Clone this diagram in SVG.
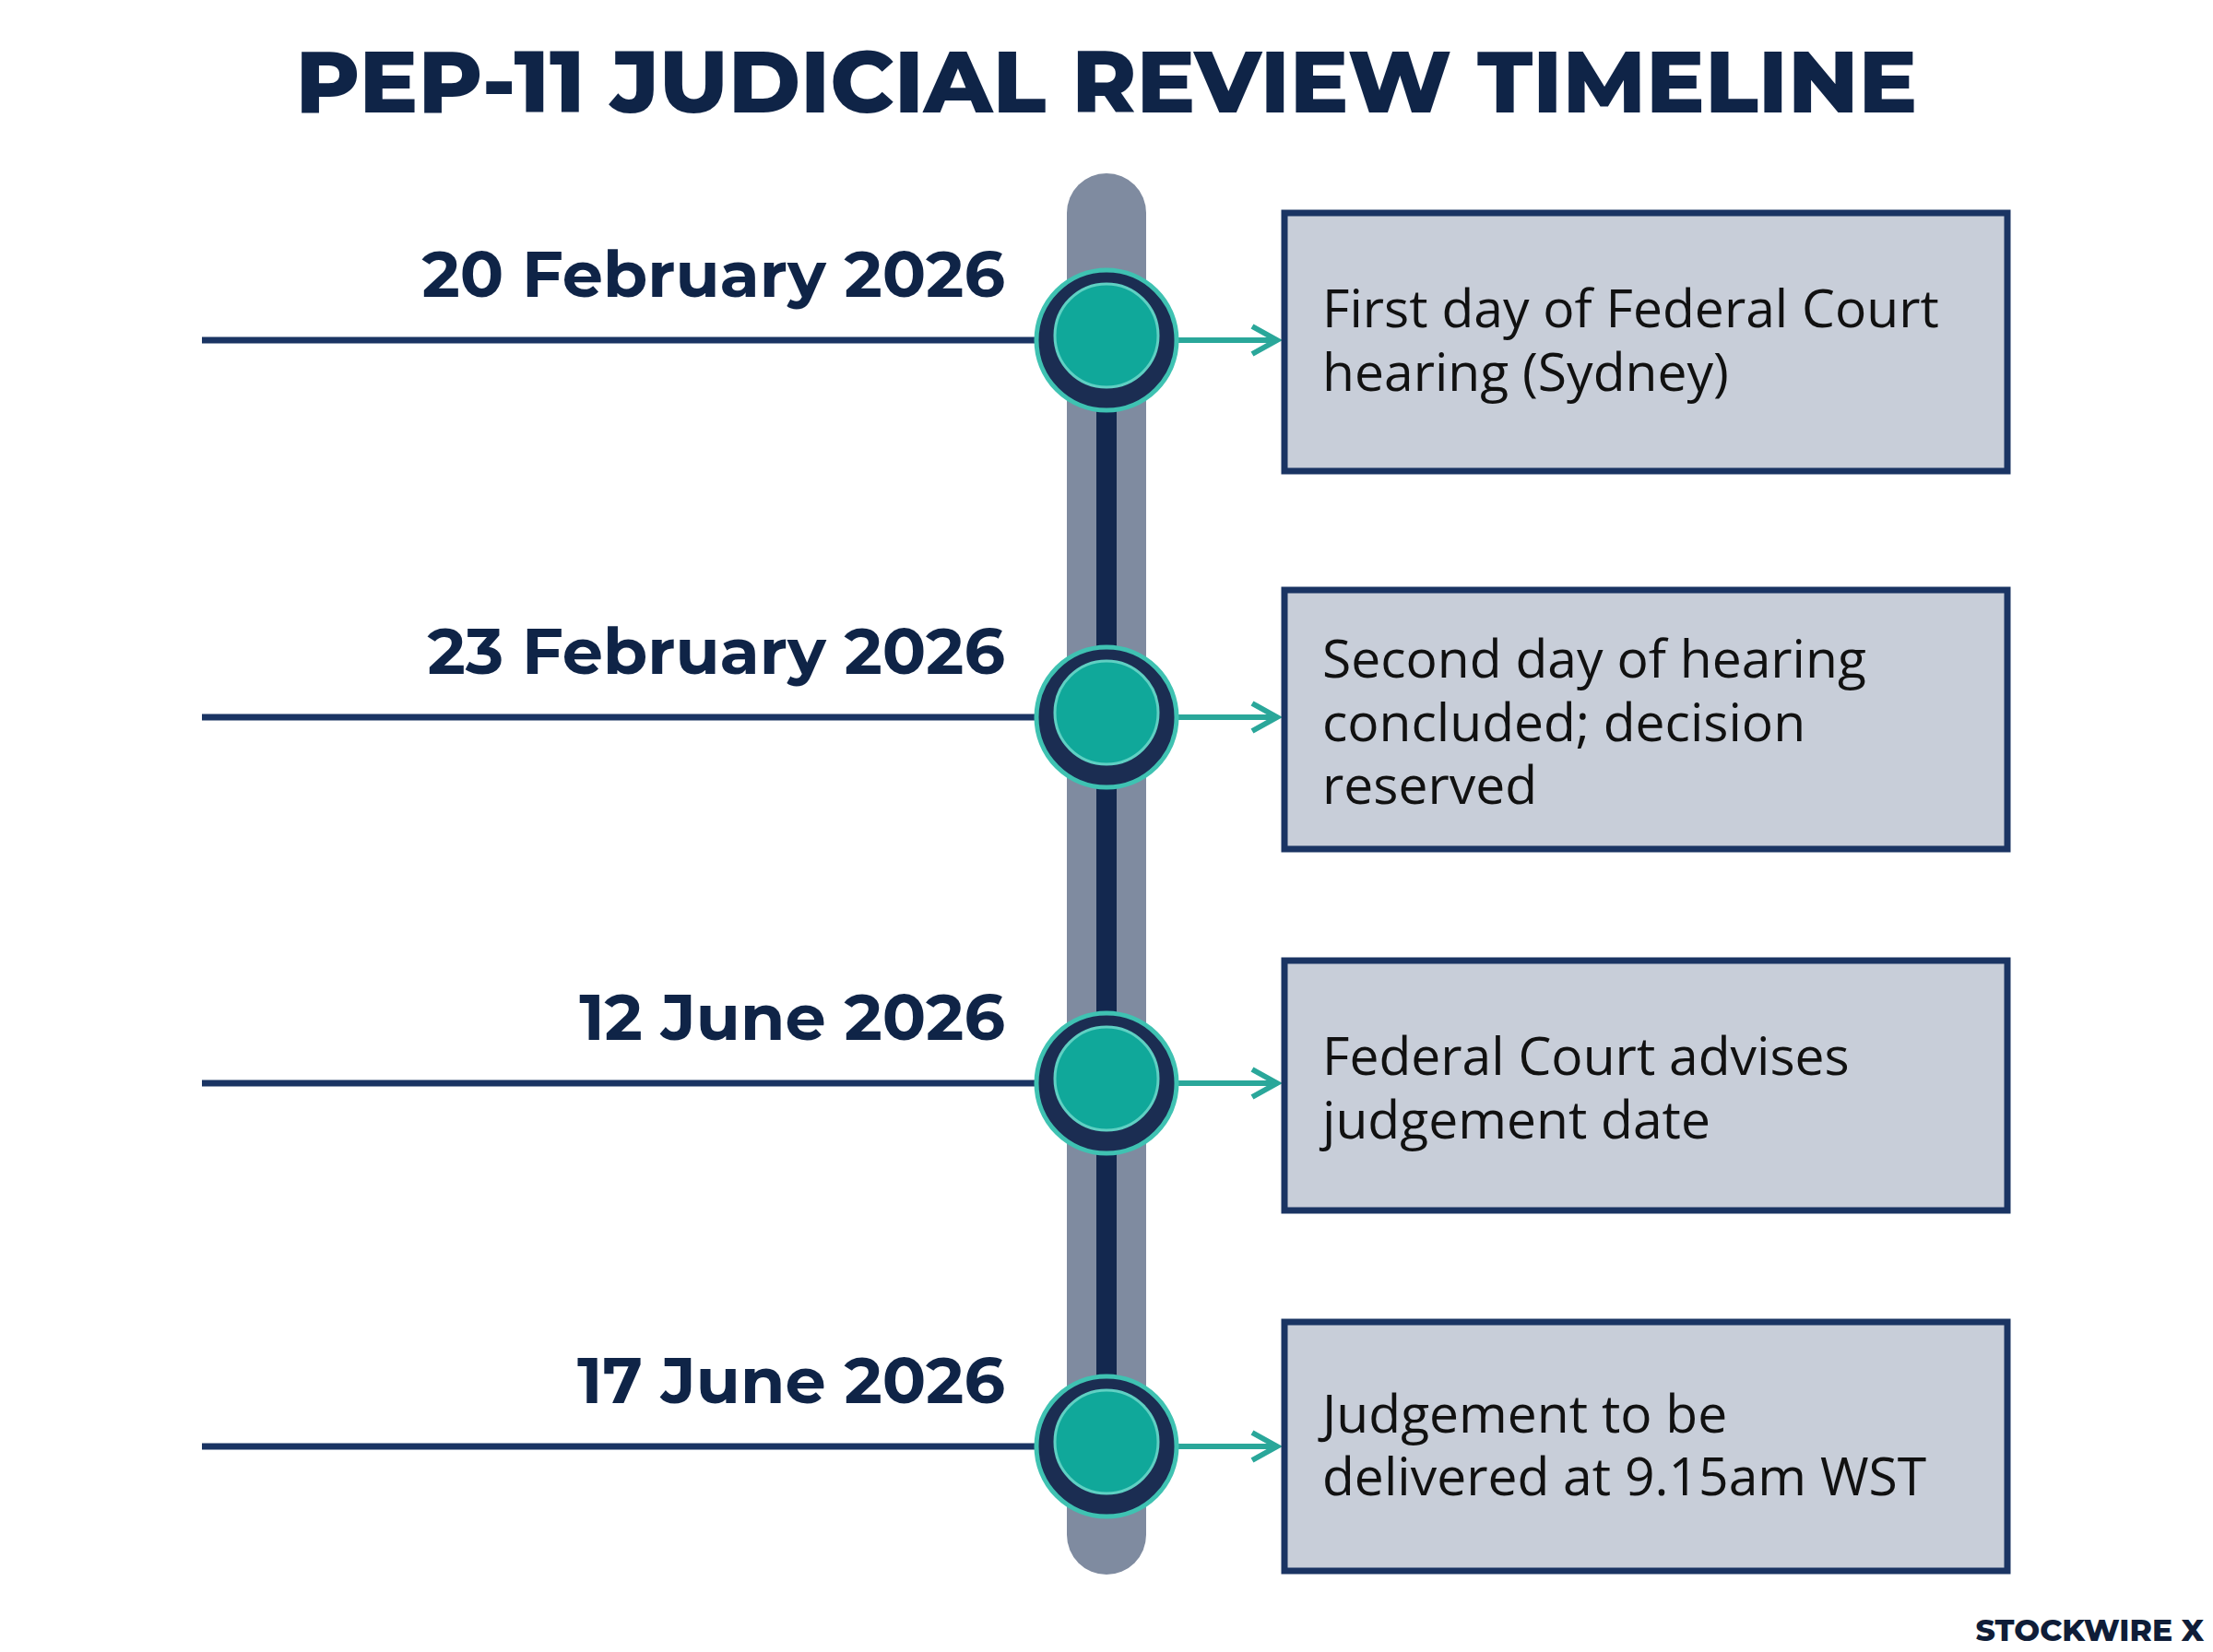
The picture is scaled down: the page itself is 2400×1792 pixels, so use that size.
<svg xmlns="http://www.w3.org/2000/svg" width="2400" height="1792" viewBox="0 0 2400 1792">
<style>
.title{font-family:Montserrat,"Poppins","Liberation Sans",sans-serif;font-weight:800;font-size:95px;fill:#0f2447}
.date{font-family:Montserrat,"Liberation Sans",sans-serif;font-weight:700;font-size:70px;fill:#0f2447}
.box{fill:#c8ced9;stroke:#1a3463;stroke-width:7}
.txt{font-family:"Open Sans","Liberation Sans",sans-serif;font-size:57px;fill:#111}
.lline{stroke:#1a3463;stroke-width:7}
.arr{stroke:#2aa79a;stroke-width:6;fill:none}
.outer{fill:#1b2d52;stroke:#3fc2b2;stroke-width:5}
.inner{fill:#10a89a;stroke:#5fd0c3;stroke-width:3}
</style>
<defs>
<marker id="ah" viewBox="0 0 12 12" refX="10" refY="6" markerWidth="6" markerHeight="6" orient="auto" markerUnits="strokeWidth"><path d="M1 1 L10 6 L1 11" fill="none" stroke="#2aa79a" stroke-width="2"/></marker>
</defs>
<rect width="2400" height="1792" fill="#fff"/>
<text class="title" x="1200" y="122" text-anchor="middle">PEP-11 JUDICIAL REVIEW TIMELINE</text>
<g id="track">
<rect x="1157" y="188" width="86" height="1520" rx="43" fill="#7f8ba0"/>
<rect x="1189" y="369" width="22" height="1200" fill="#13284f"/>
</g>
<g id="connectors">
<line class="lline" x1="219" y1="369" x2="1130" y2="369"/>
<line class="lline" x1="219" y1="778" x2="1130" y2="778"/>
<line class="lline" x1="219" y1="1175" x2="1130" y2="1175"/>
<line class="lline" x1="219" y1="1569" x2="1130" y2="1569"/>
<line class="arr" x1="1275" y1="369" x2="1385" y2="369" marker-end="url(#ah)"/>
<line class="arr" x1="1275" y1="778" x2="1385" y2="778" marker-end="url(#ah)"/>
<line class="arr" x1="1275" y1="1175" x2="1385" y2="1175" marker-end="url(#ah)"/>
<line class="arr" x1="1275" y1="1569" x2="1385" y2="1569" marker-end="url(#ah)"/>
</g>
<g id="n1"><circle class="outer" cx="1200" cy="369" r="76"/><circle class="inner" cx="1200" cy="364" r="56"/>
<text class="date" x="1090" y="322" text-anchor="end">20 February 2026</text>
<rect class="box" x="1393" y="231" width="784" height="280"/>
<text class="txt" x="1434" y="355">First day of Federal Court</text><text class="txt" x="1434" y="424">hearing (Sydney)</text></g>
<g id="n2"><circle class="outer" cx="1200" cy="778" r="76"/><circle class="inner" cx="1200" cy="773" r="56"/>
<text class="date" x="1090" y="731" text-anchor="end">23 February 2026</text>
<rect class="box" x="1393" y="640" width="784" height="281"/>
<text class="txt" x="1434" y="735">Second day of hearing</text><text class="txt" x="1434" y="804">concluded; decision</text><text class="txt" x="1434" y="872">reserved</text></g>
<g id="n3"><circle class="outer" cx="1200" cy="1175" r="76"/><circle class="inner" cx="1200" cy="1170" r="56"/>
<text class="date" x="1090" y="1128" text-anchor="end">12 June 2026</text>
<rect class="box" x="1393" y="1042" width="784" height="271"/>
<text class="txt" x="1434" y="1166">Federal Court advises</text><text class="txt" x="1434" y="1235">judgement date</text></g>
<g id="n4"><circle class="outer" cx="1200" cy="1569" r="76"/><circle class="inner" cx="1200" cy="1564" r="56"/>
<text class="date" x="1090" y="1522" text-anchor="end">17 June 2026</text>
<rect class="box" x="1393" y="1434" width="784" height="270"/>
<text class="txt" x="1434" y="1554">Judgement to be</text><text class="txt" x="1434" y="1622">delivered at 9.15am WST</text></g>
<text x="2390" y="1780" text-anchor="end" font-family="Montserrat,Liberation Sans,sans-serif" font-weight="800" font-size="33" fill="#0f1d38">STOCKWIRE X</text>
</svg>
